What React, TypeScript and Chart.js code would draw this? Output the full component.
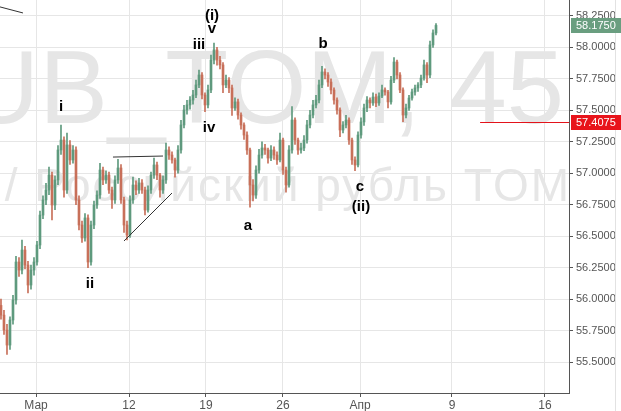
import { useEffect, useRef } from "react";
import { Chart, registerables } from "chart.js";
Chart.register(...registerables);

const xTickPositions = [11.67, 42.67, 68.33, 94, 119.67, 150.33, 181.33];
const xTickLabels = ["Мар", "12", "19", "26", "Апр", "9", "16"];
const yTicks = [55.5, 55.75, 56.0, 56.25, 56.5, 56.75, 57.0, 57.25, 57.5, 57.75, 58.0, 58.25];

const opens = [
  55.95, 55.873, 55.754, 55.635, 55.834, 55.993, 56.295, 56.231, 56.39, 56.271,
  56.112, 56.231, 56.295, 56.43, 56.668, 56.788, 56.867, 56.986, 56.748, 56.947,
  57.185, 57.264, 56.867, 57.225, 57.106, 57.185, 56.788, 56.589, 56.486, 56.645,
  56.295, 56.589, 56.748, 56.827, 57.026, 56.947, 56.986, 56.867, 56.788, 56.947,
  57.042, 56.788, 56.589, 56.509, 56.788, 56.907, 56.867, 56.923, 56.867, 56.708,
  56.867, 56.986, 57.066, 56.986, 56.867, 56.947, 57.185, 57.145, 57.106, 57.026,
  57.185, 57.384, 57.503, 57.543, 57.582, 57.622, 57.702, 57.781, 57.622, 57.543,
  57.662, 57.9, 57.98, 57.9, 57.861, 57.702, 57.741, 57.678, 57.519, 57.567,
  57.463, 57.384, 57.304, 57.185, 56.907, 56.827, 57.026, 57.145, 57.201, 57.185,
  57.121, 57.185, 57.145, 57.106, 57.264, 57.026, 56.907, 57.185, 57.423, 57.264,
  57.185, 57.201, 57.264, 57.384, 57.463, 57.543, 57.582, 57.702, 57.805, 57.781,
  57.725, 57.662, 57.582, 57.503, 57.344, 57.384, 57.423, 57.264, 57.106, 57.066,
  57.304, 57.408, 57.519, 57.582, 57.559, 57.606, 57.559, 57.614, 57.662, 57.646,
  57.567, 57.741, 57.884, 57.781, 57.662, 57.463, 57.519, 57.598, 57.646, 57.678,
  57.702, 57.757, 57.861, 57.781, 58.02, 58.115,
];
const highs = [
  56.0, 55.91, 55.8, 55.86, 56.03, 56.34, 56.33, 56.47, 56.42, 56.3,
  56.27, 56.33, 56.46, 56.7, 56.82, 56.92, 57.05, 57.01, 56.98, 57.22,
  57.384, 57.29, 57.32, 57.26, 57.22, 57.21, 56.82, 56.62, 56.68, 56.67,
  56.62, 56.78, 56.86, 57.08, 57.05, 57.02, 57.01, 56.89, 56.98, 57.11,
  57.07, 56.81, 56.62, 56.82, 56.97, 56.94, 56.96, 56.95, 56.89, 56.9,
  57.01, 57.12, 57.09, 57.0, 56.98, 57.24, 57.21, 57.17, 57.12, 57.22,
  57.42, 57.54, 57.58, 57.61, 57.66, 57.74, 57.82, 57.8, 57.64, 57.7,
  57.94, 58.035, 58.0, 57.93, 57.88, 57.78, 57.76, 57.7, 57.6, 57.59,
  57.48, 57.4, 57.33, 57.2, 56.95, 57.06, 57.19, 57.25, 57.23, 57.2,
  57.22, 57.21, 57.17, 57.32, 57.28, 57.05, 57.22, 57.53, 57.44, 57.28,
  57.24, 57.3, 57.42, 57.5, 57.58, 57.62, 57.74, 57.85, 57.83, 57.8,
  57.75, 57.68, 57.6, 57.52, 57.41, 57.46, 57.44, 57.28, 57.13, 57.33,
  57.44, 57.55, 57.61, 57.6, 57.64, 57.63, 57.64, 57.7, 57.68, 57.66,
  57.77, 57.92, 57.9, 57.8, 57.68, 57.55, 57.62, 57.67, 57.7, 57.72,
  57.78, 57.9, 57.88, 58.05, 58.14, 58.19,
];
const lows = [
  55.84, 55.72, 55.56, 55.6, 55.8, 55.96, 56.18, 56.2, 56.24, 56.05,
  56.08, 56.19, 56.27, 56.4, 56.64, 56.75, 56.83, 56.63, 56.71, 56.91,
  57.15, 56.81, 56.84, 57.07, 57.08, 56.75, 56.55, 56.45, 56.46, 56.25,
  56.27, 56.56, 56.72, 56.8, 56.91, 56.92, 56.84, 56.72, 56.76, 56.92,
  56.76, 56.53, 56.47, 56.49, 56.76, 56.83, 56.84, 56.84, 56.67, 56.69,
  56.84, 56.96, 56.95, 56.81, 56.84, 56.92, 57.11, 57.08, 56.97, 57.0,
  57.16, 57.36, 57.47, 57.51, 57.55, 57.6, 57.68, 57.59, 57.49, 57.52,
  57.64, 57.87, 57.86, 57.83, 57.64, 57.68, 57.64, 57.46, 57.5, 57.43,
  57.35, 57.27, 57.15, 56.73, 56.78, 56.8, 57.0, 57.12, 57.15, 57.08,
  57.1, 57.11, 57.07, 57.09, 56.99, 56.85, 56.89, 57.16, 57.23, 57.15,
  57.16, 57.18, 57.24, 57.36, 57.44, 57.52, 57.56, 57.68, 57.75, 57.69,
  57.63, 57.55, 57.47, 57.29, 57.32, 57.36, 57.23, 57.07, 57.02, 57.05,
  57.28, 57.38, 57.49, 57.52, 57.54, 57.53, 57.54, 57.6, 57.62, 57.52,
  57.55, 57.72, 57.75, 57.64, 57.41, 57.44, 57.5, 57.58, 57.62, 57.65,
  57.68, 57.74, 57.72, 57.76, 58.0, 58.1,
];
const closes = [
  55.873, 55.754, 55.635, 55.834, 55.993, 56.295, 56.231, 56.39, 56.271, 56.112,
  56.231, 56.295, 56.43, 56.668, 56.788, 56.867, 56.986, 56.748, 56.947, 57.185,
  57.264, 56.867, 57.225, 57.106, 57.185, 56.788, 56.589, 56.486, 56.645, 56.295,
  56.589, 56.748, 56.827, 57.026, 56.947, 56.986, 56.867, 56.788, 56.947, 57.042,
  56.788, 56.589, 56.509, 56.788, 56.907, 56.867, 56.923, 56.867, 56.708, 56.867,
  56.986, 57.066, 56.986, 56.867, 56.947, 57.185, 57.145, 57.106, 57.026, 57.185,
  57.384, 57.503, 57.543, 57.582, 57.622, 57.702, 57.781, 57.622, 57.543, 57.662,
  57.9, 57.98, 57.9, 57.861, 57.702, 57.741, 57.678, 57.519, 57.567, 57.463,
  57.384, 57.304, 57.185, 56.907, 56.827, 57.026, 57.145, 57.201, 57.185, 57.121,
  57.185, 57.145, 57.106, 57.264, 57.026, 56.907, 57.185, 57.423, 57.264, 57.185,
  57.201, 57.264, 57.384, 57.463, 57.543, 57.582, 57.702, 57.805, 57.781, 57.725,
  57.662, 57.582, 57.503, 57.344, 57.384, 57.423, 57.264, 57.106, 57.066, 57.304,
  57.408, 57.519, 57.582, 57.559, 57.606, 57.559, 57.614, 57.662, 57.646, 57.567,
  57.741, 57.884, 57.781, 57.662, 57.463, 57.519, 57.598, 57.646, 57.678, 57.702,
  57.757, 57.861, 57.781, 58.02, 58.115, 58.175,
];

const lastPrice = 58.175;
const markerPrice = 57.4075;
const markerLineStart = 159.7;

const waveLabels = [
  { text: "i", x: 20, y: 57.527 },
  { text: "ii", x: 29.67, y: 56.12 },
  { text: "iii", x: 66, y: 58.02 },
  { text: "(i)", x: 70.33, y: 58.25 },
  { text: "v", x: 70.33, y: 58.147 },
  { text: "iv", x: 69.33, y: 57.36 },
  { text: "a", x: 82.33, y: 56.581 },
  { text: "b", x: 107.33, y: 58.027 },
  { text: "c", x: 119.67, y: 56.891 },
  { text: "(ii)", x: 120, y: 56.732 },
];

const trendLines = [
  [-0.33, 58.322, 7.33, 58.274],
  [37.33, 57.129, 54, 57.137],
  [41, 56.462, 57, 56.843],
];

const FONT = "'Liberation Sans', Arial, sans-serif";

export default function App() {
  const ref = useRef<HTMLCanvasElement>(null);
  useEffect(() => {
    const up = "#5f9a7e";
    const down = "#c8705a";
    const colors = closes.map((c, i) => (c >= opens[i] ? up : down));
    const wicks = closes.map((_, i) => ({ x: i, y: [lows[i], highs[i]] }));
    const bodies = closes.map((c, i) => ({ x: i, y: [opens[i], c] }));

    const overlay = {
      id: "overlay",
      beforeDatasetsDraw(chart: any) {
        const { ctx, chartArea } = chart;
        ctx.save();
        ctx.beginPath();
        ctx.rect(chartArea.left, chartArea.top, chartArea.right - chartArea.left, chartArea.bottom - chartArea.top);
        ctx.clip();
        ctx.fillStyle = "#e6e6e6";
        ctx.textAlign = "right";
        ctx.textBaseline = "alphabetic";
        ctx.font = `103px ${FONT}`;
        ctx.fillText("USDRUB_TOM, 45", chartArea.right - 5, 123);
        ctx.font = `46px ${FONT}`;
        (ctx as any).letterSpacing = "2px";
        ctx.fillText("Доллар США / Российский рубль TOM", chartArea.right + 2, 201);
        (ctx as any).letterSpacing = "0px";
        ctx.restore();
      },
      afterDatasetsDraw(chart: any) {
        const { ctx, chartArea, scales } = chart;
        const xs = scales.x;
        const ys = scales.y;
        ctx.save();
        ctx.strokeStyle = "#333";
        ctx.lineWidth = 1;
        trendLines.forEach(([x1, y1, x2, y2]) => {
          ctx.beginPath();
          ctx.moveTo(xs.getPixelForValue(x1), ys.getPixelForValue(y1));
          ctx.lineTo(xs.getPixelForValue(x2), ys.getPixelForValue(y2));
          ctx.stroke();
        });
        const my = Math.round(ys.getPixelForValue(markerPrice)) + 0.5;
        ctx.strokeStyle = "#e3131b";
        ctx.beginPath();
        ctx.moveTo(xs.getPixelForValue(markerLineStart), my);
        ctx.lineTo(chartArea.right, my);
        ctx.stroke();
        ctx.fillStyle = "#000";
        ctx.font = `bold 15px ${FONT}`;
        ctx.textAlign = "center";
        ctx.textBaseline = "middle";
        waveLabels.forEach((l) => {
          ctx.fillText(l.text, xs.getPixelForValue(l.x), ys.getPixelForValue(l.y));
        });
        ctx.restore();
      },
      afterDraw(chart: any) {
        const { ctx, chartArea, scales } = chart;
        const ys = scales.y;
        ctx.save();
        ctx.strokeStyle = "#e2e2e2";
        ctx.lineWidth = 1;
        ctx.beginPath();
        ctx.moveTo(615.5, 0);
        ctx.lineTo(615.5, chart.height);
        ctx.stroke();
        const boxes = [
          { v: lastPrice, bg: "#6a9e80" },
          { v: markerPrice, bg: "#e8141b" },
        ];
        ctx.font = `11px ${FONT}`;
        ctx.textAlign = "left";
        ctx.textBaseline = "middle";
        boxes.forEach((b) => {
          const cy = ys.getPixelForValue(b.v);
          ctx.fillStyle = b.bg;
          ctx.fillRect(chartArea.right + 2, Math.round(cy - 7.5), 52, 15);
          ctx.fillStyle = "#fff";
          ctx.fillText(b.v.toFixed(4), chartArea.right + 7, cy + 0.5);
        });
        ctx.restore();
      },
    };

    const chart = new Chart(ref.current as HTMLCanvasElement, {
      type: "bar",
      data: {
        datasets: [
          { data: wicks as any, backgroundColor: colors, barThickness: 1, grouped: false, minBarLength: 1 } as any,
          { data: bodies as any, backgroundColor: colors, barThickness: 2, grouped: false, minBarLength: 1 } as any,
        ],
      },
      options: {
        animation: false,
        responsive: false,
        maintainAspectRatio: false,
        layout: { padding: 0 },
        plugins: { legend: { display: false }, tooltip: { enabled: false } },
        scales: {
          x: {
            type: "linear",
            min: -0.33,
            max: 189.33,
            offset: false,
            afterBuildTicks: (s: any) => {
              s.ticks = xTickPositions.map((v) => ({ value: v }));
            },
            afterFit: (s: any) => {
              s.height = 18;
              s.paddingLeft = 0;
              s.paddingRight = 0;
            },
            ticks: {
              autoSkip: false,
              maxRotation: 0,
              padding: 1,
              color: "#555",
              font: { family: FONT, size: 12 },
              callback: (_v: any, i: number) => xTickLabels[i],
            },
            grid: { color: "#e6e6e6", tickColor: "#555", tickLength: 4, offset: false },
            border: { color: "#555" },
          },
          y: {
            position: "right",
            min: 55.254,
            max: 58.377,
            afterBuildTicks: (s: any) => {
              s.ticks = yTicks.map((v) => ({ value: v }));
            },
            afterFit: (s: any) => {
              s.width = 52;
              s.paddingTop = 0;
              s.paddingBottom = 0;
            },
            ticks: {
              padding: 3,
              color: "#555",
              font: { family: FONT, size: 11 },
              callback: (v: any) => Number(v).toFixed(4),
            },
            grid: { color: "#e6e6e6", tickColor: "#555", tickLength: 4 },
            border: { color: "#555" },
          },
        },
      },
      plugins: [overlay as any],
    });
    return () => chart.destroy();
  }, []);

  return (
    <div style={{ position: "fixed", left: 0, top: 0, width: 621, height: 411, background: "#fff" }}>
      <canvas ref={ref} width={621} height={411} style={{ width: 621, height: 411, display: "block" }} />
    </div>
  );
}
